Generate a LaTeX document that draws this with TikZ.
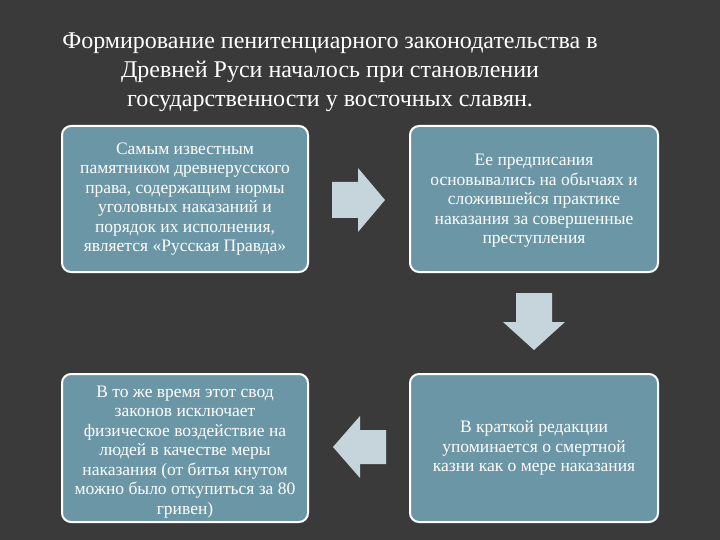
\documentclass[tikz,border=0pt]{standalone}
\usepackage{fontspec}
\setmainfont{Liberation Serif}
\definecolor{bg}{HTML}{3A3A3A}
\definecolor{boxc}{HTML}{6A96A6}
\definecolor{arr}{HTML}{C6D4DC}
\begin{document}
\begin{tikzpicture}[x=1pt,y=-1pt,
  box/.style={draw=white,line width=2pt,fill=boxc,rounded corners=9pt,text=white,align=center,font=\fontsize{17.5}{19.5}\selectfont,inner sep=0pt},
  arrw/.style={fill=arr,draw=none}]
\fill[bg] (0,0) rectangle (720,540);
\node[text=white,align=center,font=\fontsize{24}{29}\selectfont] (title) at (330,72)
 {Формирование пенитенциарного законодательства в\\Древней Руси началось при становлении\\государственности у восточных славян.};
\draw[box] (62,126) rectangle (308,272); \node[box,draw=none,fill=none] (b1) at (185,199) {Самым известным\\памятником древнерусского\\права, содержащим нормы\\уголовных наказаний и\\порядок их исполнения,\\является «Русская Правда»};
\draw[box] (410,126) rectangle (658,272); \node[box,draw=none,fill=none] (b2) at (534,201) {Ее предписания\\основывались на обычаях и\\сложившейся практике\\наказания за совершенные\\преступления};
\draw[box] (62,374) rectangle (308,522); \node[box,draw=none,fill=none] (b3) at (185,452) {В то же время этот свод\\законов исключает\\физическое воздействие на\\людей в качестве меры\\наказания (от битья кнутом\\можно было откупиться за 80\\гривен)};
\draw[box] (410,374) rectangle (658,522); \node[box,draw=none,fill=none] (b4) at (534,448) {В краткой редакции\\упоминается о смертной\\казни как о мере наказания};
\fill[arrw] (332,182) -- (358,182) -- (358,168) -- (385,200) -- (358,232) -- (358,218) -- (332,218) -- cycle;
\fill[arrw] (516,293) -- (552,293) -- (552,322) -- (565,322) -- (534,350) -- (503,322) -- (516,322) -- cycle;
\fill[arrw] (386,430) -- (360,430) -- (360,416) -- (333,447) -- (360,478) -- (360,464) -- (386,464) -- cycle;
\end{tikzpicture}
\end{document}
